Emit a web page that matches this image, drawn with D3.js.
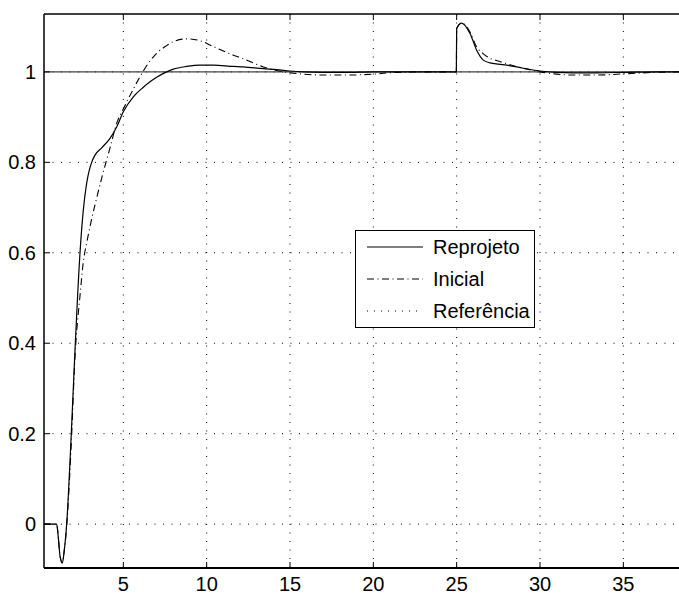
<!DOCTYPE html>
<html><head><meta charset="utf-8">
<script src="https://cdn.jsdelivr.net/npm/d3@7"></script>
<style>body{margin:0;background:#fff}svg{display:block}text{font-family:"Liberation Sans",Arial,sans-serif;fill:#000}</style>
</head><body>
<script>
const time = [0.24,0.9,1.0,1.1,1.2,1.34,1.45,1.6,1.86,2.1,2.4,2.6,2.8,2.94,3.1,3.3,3.7,4.2,4.6,5.0,5.6,6.2,6.6,7.0,7.6,8.0,8.8,9.6,10.4,11.6,12.2,13.4,14.2,15.0,15.8,17,18.5,20,21.4,23,24.98,25.0,25.3,25.8,26.2,26.6,27.0,27.5,28.0,29.0,30.0,31.0,32,33.4,35.2,37,38.4];
const reprojeto = [0,0,0,-0.03,-0.07,-0.086,-0.06,0.0,0.186,0.385,0.60,0.695,0.754,0.78,0.80,0.816,0.832,0.853,0.878,0.912,0.945,0.966,0.978,0.988,1.0,1.006,1.012,1.015,1.015,1.012,1.011,1.007,1.005,1.002,1.0,0.999,0.999,1.0,1.0,1.0,1.0,1.096,1.108,1.085,1.048,1.026,1.02,1.017,1.015,1.008,1.002,0.999,0.998,0.998,0.999,1.0,1.0];
const inicial = [0,0,0,-0.03,-0.07,-0.085,-0.06,-0.005,0.165,0.37,0.505,0.58,0.622,0.647,0.675,0.706,0.765,0.832,0.886,0.918,0.962,1.002,1.024,1.041,1.058,1.067,1.073,1.069,1.056,1.037,1.029,1.011,1.003,0.998,0.995,0.993,0.993,0.995,0.999,1.0,1.0,1.096,1.108,1.088,1.055,1.04,1.03,1.024,1.018,1.008,1.0,0.995,0.993,0.993,0.996,0.999,1.0];
const referencia = [1,1];
const refTime = [0.24,38.4];
const xTicks = [5,10,15,20,25,30,35];
const yTicks = [0,0.2,0.4,0.6,0.8,1];
const legendLabels = ["Reprojeto","Inicial","Referência"];

const W=679,H=596;
const L=44,R=679,T=14,B=568;
const svg=d3.select("body").append("svg").attr("width",W).attr("height",H);
const x=d3.scaleLinear().domain([0.24,38.34]).range([L,R]);
const y=d3.scaleLinear().domain([-0.097,1.128]).range([B,T]);

svg.append("defs").append("clipPath").attr("id","clip").append("rect")
  .attr("x",L).attr("y",T).attr("width",R-L).attr("height",B-T);

// grid
const g=svg.append("g");
xTicks.forEach(t=>g.append("line").attr("x1",x(t)).attr("x2",x(t)).attr("y1",T).attr("y2",B)
  .attr("stroke","#000").attr("stroke-width",1).attr("stroke-dasharray","1,7.5"));
yTicks.forEach(t=>g.append("line").attr("x1",L).attr("x2",R).attr("y1",y(t)).attr("y2",y(t))
  .attr("stroke","#000").attr("stroke-width",1).attr("stroke-dasharray","1,7.5"));

const line=(ts,vs)=>d3.line().x((d,i)=>x(ts[i])).y(d=>y(d)).curve(d3.curveMonotoneX)(vs);
const pg=svg.append("g").attr("clip-path","url(#clip)");
pg.append("path").attr("d",line(refTime,referencia)).attr("fill","none").attr("stroke","#444").attr("stroke-width",1.2);
pg.append("path").attr("d",line(time,inicial)).attr("fill","none").attr("stroke","#000").attr("stroke-width",1.1).attr("stroke-dasharray","7,3.5,1,3.5");
pg.append("path").attr("d",line(time,reprojeto)).attr("fill","none").attr("stroke","#000").attr("stroke-width",1.2);

// axes
const ax=svg.append("g");
ax.append("line").attr("x1",L).attr("x2",R).attr("y1",B).attr("y2",B).attr("stroke","#000").attr("stroke-width",1.8);
ax.append("line").attr("x1",L).attr("x2",R).attr("y1",T).attr("y2",T).attr("stroke","#000").attr("stroke-width",1.3);
ax.append("line").attr("x1",L).attr("x2",L).attr("y1",T).attr("y2",B).attr("stroke","#000").attr("stroke-width",1.5);
xTicks.forEach(t=>{
  ax.append("line").attr("x1",x(t)).attr("x2",x(t)).attr("y1",B).attr("y2",B-6).attr("stroke","#000").attr("stroke-width",1);
  ax.append("line").attr("x1",x(t)).attr("x2",x(t)).attr("y1",T).attr("y2",T+6).attr("stroke","#000").attr("stroke-width",1);
  ax.append("text").attr("x",x(t)).attr("y",591).attr("text-anchor","middle").attr("font-size",20).text(t);
});
yTicks.forEach(t=>{
  ax.append("line").attr("x1",L).attr("x2",L+6).attr("y1",y(t)).attr("y2",y(t)).attr("stroke","#000").attr("stroke-width",1);
  ax.append("text").attr("x",36).attr("y",y(t)+7).attr("text-anchor","end").attr("font-size",20).text(t===0?"0":t===1?"1":t.toFixed(1));
});

// legend
const lg=svg.append("g");
lg.append("rect").attr("x",355.5).attr("y",230.5).attr("width",179).attr("height",97).attr("fill","#fff").attr("stroke","#000").attr("stroke-width",1);
const dashes=[null,"7,3.5,1,3.5","1,6"];
legendLabels.forEach((lab,i)=>{
  const cy=247+i*32;
  const l=lg.append("line").attr("x1",367).attr("x2",423).attr("y1",cy).attr("y2",cy).attr("stroke","#000").attr("stroke-width",1.1);
  if(dashes[i]) l.attr("stroke-dasharray",dashes[i]);
  lg.append("text").attr("x",433).attr("y",cy+7).attr("font-size",20).text(lab);
});
</script>
</body></html>
